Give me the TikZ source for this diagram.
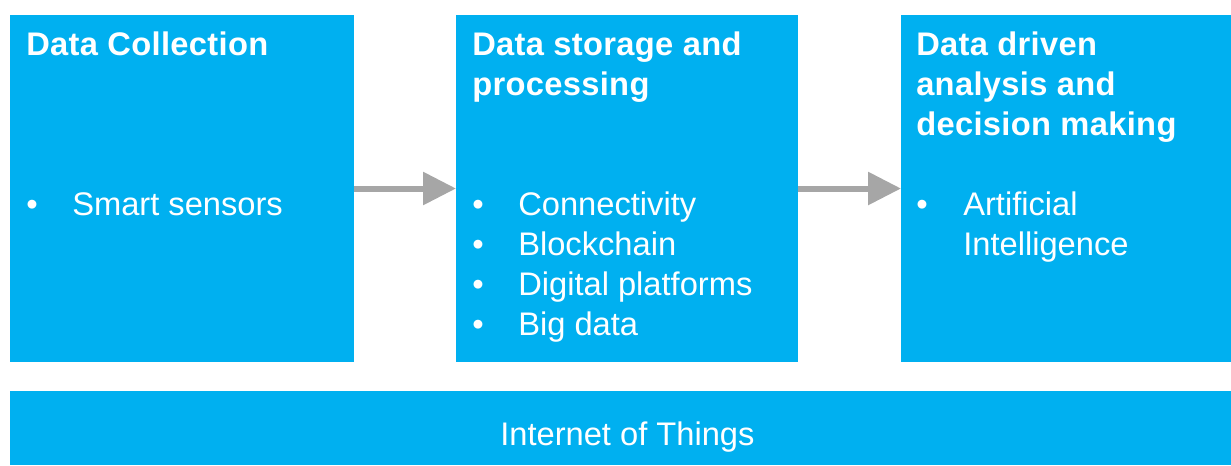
\documentclass[tikz,border=0pt]{standalone}
\usepackage{fontspec}
\setmainfont{Liberation Sans}[BoldFeatures={LetterSpace=1}]
\usetikzlibrary{arrows.meta}
\definecolor{boxblue}{RGB}{0,176,240}
\definecolor{arrowgray}{RGB}{166,166,166}
\begin{document}
\begin{tikzpicture}[x=0.75pt,y=-0.75pt,
  box/.style={fill=boxblue,draw=none,inner sep=0pt,outer sep=0pt,anchor=north west},
  ttl/.style={anchor=base west,inner sep=0pt,text=white,font=\fontsize{24.5pt}{30pt}\selectfont\bfseries},
  itm/.style={anchor=base west,inner sep=0pt,text=white,font=\fontsize{24.5pt}{30pt}\selectfont},
  flow/.style={draw=arrowgray,line width=4.5pt,-{Triangle[length=24.75pt,width=24pt]}}]
\useasboundingbox (0,0) rectangle (1231,465);
\node[box,minimum width=258pt,minimum height=260.25pt] (b1) at (10,15) {};
\node[box,minimum width=256.5pt,minimum height=260.25pt] (b2) at (456,15) {};
\node[box,minimum width=247.5pt,minimum height=260.25pt] (b3) at (901,15) {};
\node[box,minimum width=915.75pt,minimum height=55.5pt] (bar) at (10,391) {};
% titles
\node[ttl] (t1a) at (26,55) {Data Collection};
\node[ttl] (t2a) at (472,55) {Data storage and};
\node[ttl] (t2b) at (472,95) {processing};
\node[ttl] (t3a) at (916,55) {Data driven};
\node[ttl] (t3b) at (916,95) {analysis and};
\node[ttl] (t3c) at (916,135) {decision making};
% bullets box 1
\node[itm] (d1a) at (26,215) {•};
\node[itm] (i1a) at (72,215) {Smart sensors};
% bullets box 2
\node[itm] (d2a) at (472,215) {•};
\node[itm] (i2a) at (518,215) {Connectivity};
\node[itm] (d2b) at (472,255) {•};
\node[itm] (i2b) at (518,255) {Blockchain};
\node[itm] (d2c) at (472,295) {•};
\node[itm] (i2c) at (518,295) {Digital platforms};
\node[itm] (d2d) at (472,335) {•};
\node[itm] (i2d) at (518,335) {Big data};
% bullets box 3
\node[itm] (d3a) at (916,215) {•};
\node[itm] (i3a) at (963,215) {Artificial};
\node[itm] (i3b) at (963,255) {Intelligence};
% bar
\node[itm] (iot) at (500,445) {Internet of Things};
% arrows
\draw[flow] (b1.east) -- (b2.west);
\draw[flow] (b2.east) -- (b3.west);
\end{tikzpicture}
\end{document}
